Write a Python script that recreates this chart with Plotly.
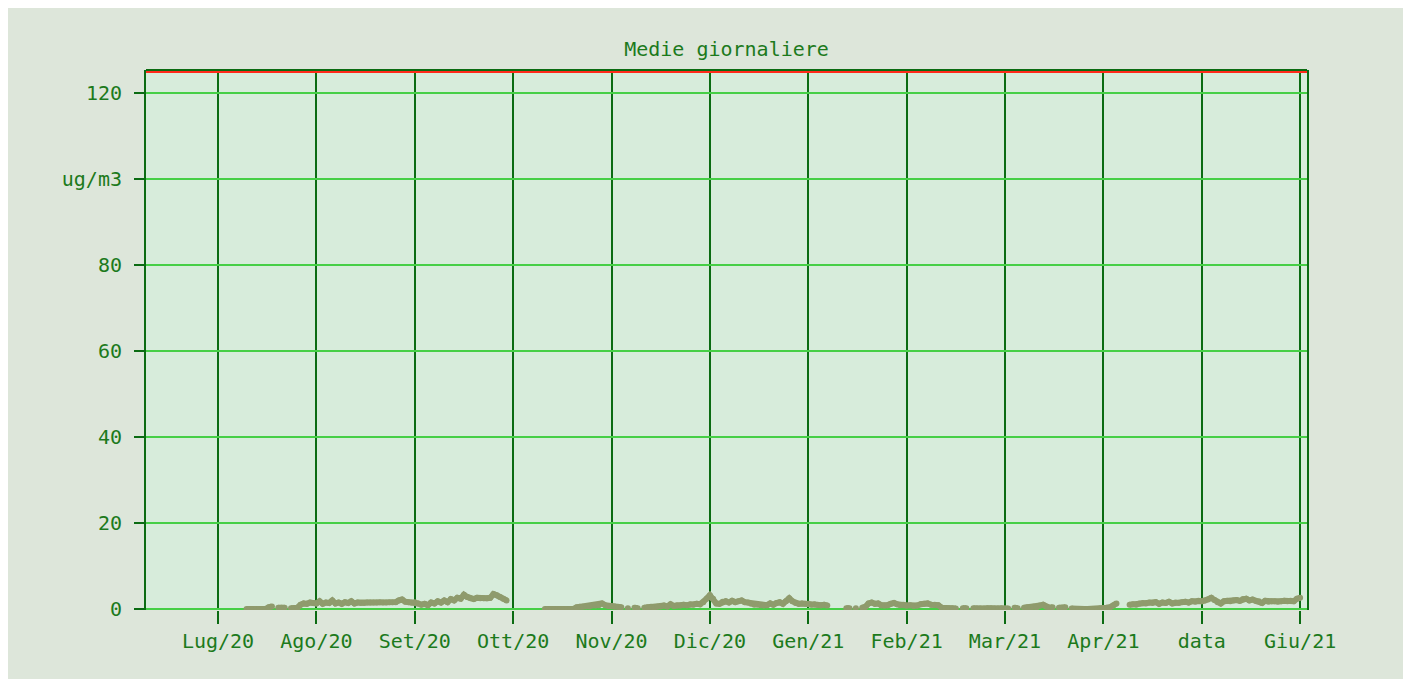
import plotly.graph_objects as go

# ---- data ----
tick_labels = ['Lug/20', 'Ago/20', 'Set/20', 'Ott/20', 'Nov/20', 'Dic/20',
               'Gen/21', 'Feb/21', 'Mar/21', 'Apr/21', 'data', 'Giu/21']
month_days = [31, 31, 30, 31, 30, 31, 31, 28, 31, 30, 31, 30]

N = None
lug20 = [N]*9 + [0, 0, 0, 0, 0, 0, 0, 0.4, 0.6, N, 0.3, 0.3, 0.3, N, 0.2, 0.2, 0.3,
                 1.0, 1.3, 1.2, 1.5, 1.4]
ago20 = [1.3, 1.8, 1.2, 1.5, 1.4, 2.0, 1.3, 1.5, 1.2, 1.6, 1.4, 1.8, 1.3, 1.5, 1.4, 1.4,
         1.5, 1.5, 1.5, 1.5, 1.6, 1.5, 1.5, 1.6, 1.6, 1.6, 2.0, 2.2, 1.7, 1.6, 1.5]
set20 = [1.6, 1.3, 1.0, 1.2, 0.9, 1.5, 1.3, 1.8, 1.5, 2.0, 1.6, 2.3, 2.0, 2.6, 2.4, 3.3,
         2.8, 2.5, 2.3, 2.6, 2.5, 2.5, 2.5, 2.6, 3.5, 3.2, 2.8, 2.4, 2.0, N]
ott20 = [N]*10 + [0]*10 + [0.4, 0.5, 0.5, 0.6, 0.6, 0.8, 0.8, 0.9, 1.3, 0.9, 0.7]
nov20 = [0.7, 0.6, 0.5, 0.4, N, 0.2, N, 0.3, 0.2, N, 0.3, 0.4, 0.5, 0.3, 0.5, 0.6,
         0.8, 0.6, 1.1, 0.7, 0.9, 0.8, 1.0, 0.9, 1.1, 1.0, 1.2, 1.1, 1.6, 2.4]
dic20 = [3.2, 2.4, 1.3, 1.2, 1.7, 1.8, 1.5, 1.9, 1.6, 1.8, 2.0, 1.6, 1.5, 1.2, 1.0, 1.0,
         0.9, 0.8, 0.9, 1.3, 1.0, 1.4, 1.6, 1.2, 1.8, 2.5, 1.8, 1.4, 1.2, 1.3, 1.2]
gen21 = [1.2, 1.0, 1.1, 1.0, 0.9, 1.0, 0.8, N, N, N, N, N, 0.2, 0.2, N, 0.2, N, 0.3,
         0.5, 1.3, 1.5, 1.2, 1.3, 0.9, 0.8, 0.9, 1.2, 1.4, 1.1, 0.9, 1.0]
feb21 = [0.8, 0.9, 0.7, 0.8, 1.1, 1.2, 1.3, 1.0, 1.0, 0.9, 0.3, 0.2, 0.2, 0.2, 0.1, N,
         0.2, 0.2, N, 0.2, 0.1, 0.1, 0.1, 0.2, 0.2, 0.1, 0.1, 0.2]
mar21 = [0.1, 0.1, N, 0.3, 0.2, N, 0.3, 0.4, 0.3, 0.5, 0.4, 0.8, 1.0, 0.5, 0.3, 0.4,
         N, 0.3, 0.3, 0.4, N, 0.1, 0, 0, 0, 0, 0, 0, 0, 0, 0.1]
apr21 = [0.1, 0.3, 0.4, 0.8, 1.3, N, N, N, 1.0, 1.1, 1.0, 1.3, 1.4, 1.3, 1.5, 1.4,
         1.6, 1.2, 1.5, 1.4, 1.7, 1.3, 1.5, 1.4, 1.6, 1.7, 1.5, 1.8, 1.7, 1.9]
mag21 = [1.8, 2.0, 2.2, 2.6, 2.1, 1.6, 1.3, 1.8, 1.9, 1.8, 2.0, 2.1, 1.9, 2.3, 2.4, 2.0,
         2.2, 1.9, 1.8, 1.4, 1.9, 1.7, 1.8, 1.8, 1.7, 1.8, 1.9, 1.8, 1.9, 1.8, 2.4]
giu21 = [2.6]

monthly = [lug20, ago20, set20, ott20, nov20, dic20, gen21, feb21, mar21, apr21, mag21, giu21]
limite = 125

# ---- build positions (one tick per month) ----
xs, ys = [], []
for i, vals in enumerate(monthly):
    for d, v in enumerate(vals):
        xs.append(i + d / month_days[i])
        ys.append(v)

DARK = '#0b6b12'
BRIGHT = '#46cf46'
TEXT = '#1c7a1c'
FONT = 'DejaVu Sans Mono'
W, H = 1395, 671

fig = go.Figure()
fig.add_trace(go.Scatter(
    x=xs, y=ys, mode='lines+markers',
    line=dict(color='#8f9b6d', width=6),
    marker=dict(color='#8f9b6d', size=6),
    connectgaps=False, showlegend=False, hoverinfo='skip'))

fig.add_trace(go.Scatter(
    x=[-0.732, 11.07], y=[limite, limite], mode='lines',
    line=dict(color='#ff2a1a', width=3), showlegend=False, hoverinfo='skip'))

fig.update_layout(
    width=W, height=H,
    paper_bgcolor='#dde6da', plot_bgcolor='#d7ecdb',
    margin=dict(l=138, r=96, t=62, b=69),
    title=dict(text='Medie giornaliere', x=(138 + 1299) / 2 / W, xanchor='center',
               y=1 - 41 / H, yanchor='middle', xref='container', yref='container',
               font=dict(family=FONT, size=20, color=TEXT)),
    font=dict(family=FONT, size=20, color=TEXT),
)

fig.update_xaxes(
    range=[-0.732, 11.07],
    tickmode='array', tickvals=list(range(len(tick_labels))), ticktext=tick_labels,
    showgrid=True, gridcolor=DARK, gridwidth=2,
    ticks='outside', ticklen=13, tickwidth=2, tickcolor=DARK,
    ticklabelstandoff=0,
    showline=False, zeroline=False,
    tickfont=dict(family=FONT, size=20, color=TEXT),
)
fig.update_yaxes(
    range=[-0.23, 125.35],
    tickmode='array', tickvals=[0, 20, 40, 60, 80, 100, 120],
    ticktext=['0', '20', '40', '60', '80', 'ug/m3', '120'],
    showgrid=True, gridcolor=BRIGHT, gridwidth=2,
    zeroline=True, zerolinecolor=BRIGHT, zerolinewidth=2,
    ticks='outside', ticklen=10, tickwidth=2, tickcolor=DARK,
    ticklabelstandoff=8,
    showline=True, linecolor=DARK, linewidth=2, mirror=True,
    tickfont=dict(family=FONT, size=20, color=TEXT),
)

# top border of the plotting area
fig.add_shape(type='line', xref='paper', yref='paper', x0=0, x1=1, y0=1, y1=1,
              line=dict(color=DARK, width=2), layer='above')

fig.write_html('out.html')
